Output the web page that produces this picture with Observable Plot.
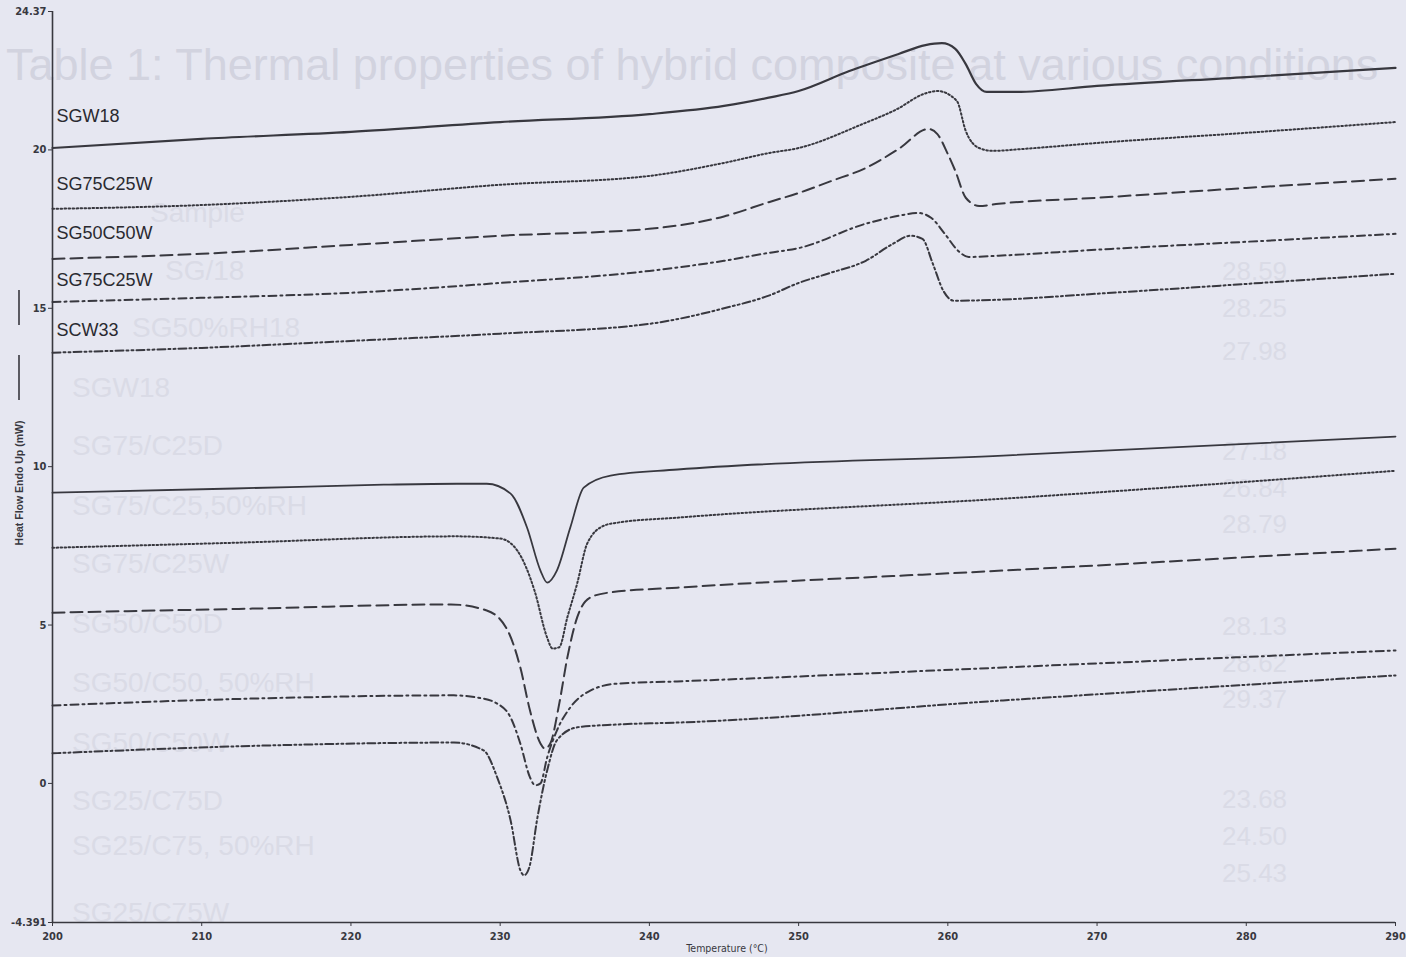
<!DOCTYPE html>
<html>
<head>
<meta charset="utf-8">
<script src="https://cdn.jsdelivr.net/npm/d3@7"></script>
<script src="https://cdn.jsdelivr.net/npm/@observablehq/plot@0.6"></script>
<style>
  html, body { margin: 0; padding: 0; background: #e6e7f1; }
  #chart { position: relative; width: 1406px; height: 957px; overflow: hidden; }
  svg { display: block; }
</style>
</head>
<body>
<div id="chart"></div>
<script>
// ---------- data ----------
const xTicks = [200, 210, 220, 230, 240, 250, 260, 270, 280, 290];
const yTicks = [-4.391, 0, 5, 10, 15, 20, 24.37];
const yTickLabels = ["-4.391", "0", "5", "10", "15", "20", "24.37"];

// heating scans (upper group)
const h1T = [200, 210, 220, 230, 240, 245, 248, 250, 253.4, 256.7, 258.5, 259.6, 260.5, 261.2, 261.9, 262.6, 264.6, 270, 280, 290];
const h1H = [20.06, 20.35, 20.57, 20.88, 21.13, 21.39, 21.65, 21.86, 22.49, 23.03, 23.31, 23.37, 23.19, 22.71, 22.08, 21.83, 21.83, 22.02, 22.30, 22.59];

const h2T = [200, 210, 220, 230, 240, 245, 248, 250, 254.3, 256.6, 258.4, 259.3, 260.6, 261.2, 262.1, 263, 265, 270, 280, 290];
const h2H = [18.14, 18.26, 18.52, 18.90, 19.18, 19.59, 19.9, 20.06, 20.82, 21.29, 21.77, 21.86, 21.55, 20.6, 20.06, 19.97, 20.03, 20.22, 20.54, 20.88];

const h3T = [200, 210, 220, 230, 240, 245, 248, 250, 252.2, 254.5, 256.7, 258.7, 259.3, 260, 260.5, 261.2, 262.1, 263.4, 270, 280, 290];
const h3H = [16.56, 16.72, 17.0, 17.29, 17.51, 17.9, 18.35, 18.64, 19.02, 19.43, 20.03, 20.66, 20.5, 19.87, 19.34, 18.49, 18.23, 18.30, 18.49, 18.8, 19.09];

const h4T = [200, 210, 220, 230, 240, 245, 248, 250, 254.5, 256.7, 258, 258.9, 259.8, 260.7, 261.4, 263.4, 270, 280, 290];
const h4H = [15.2, 15.33, 15.49, 15.8, 16.18, 16.5, 16.75, 16.9, 17.67, 17.92, 18.01, 17.85, 17.35, 16.81, 16.62, 16.66, 16.85, 17.1, 17.35];

const h5T = [200, 210, 220, 230, 240, 245, 248, 250, 252, 254.5, 256.3, 257.5, 258.3, 259, 259.7, 260.4, 263.4, 270, 280, 290];
const h5H = [13.6, 13.75, 13.97, 14.2, 14.51, 15.0, 15.4, 15.8, 16.1, 16.5, 17.03, 17.29, 17.19, 16.4, 15.55, 15.24, 15.27, 15.46, 15.77, 16.09];

// cooling scans (lower group)
const c1T = [200, 212.2, 222.2, 227.1, 229.1, 230.7, 231.8, 232.7, 233.15, 233.8, 234.7, 235.6, 237.4, 241.9, 263.7, 290];
const c1H = [9.18, 9.31, 9.43, 9.46, 9.46, 9.15, 8.08, 6.72, 6.34, 6.72, 8.08, 9.34, 9.72, 9.91, 10.35, 10.95];

const c2T = [200, 212.4, 227.1, 230.0, 231.15, 232.3, 233.15, 233.5, 233.96, 234.5, 235.16, 235.83, 236.97, 237.84, 241.86, 263.7, 290];
const c2H = [7.44, 7.6, 7.8, 7.73, 7.35, 6.09, 4.6, 4.26, 4.3, 5.24, 6.31, 7.57, 8.14, 8.23, 8.39, 8.99, 9.87];

const c3T = [200, 213.5, 226.7, 229.1, 230.5, 231.35, 232.0, 232.7, 233.0, 233.36, 233.96, 234.5, 235.16, 236.04, 237.37, 241.86, 263.7, 290];
const c3H = [5.39, 5.52, 5.65, 5.46, 4.83, 3.66, 2.3, 1.26, 1.1, 1.26, 2.52, 3.97, 5.24, 5.87, 6.03, 6.18, 6.72, 7.41];

const c4T = [200, 213.5, 226.9, 228.5, 229.8, 230.7, 231.35, 232.0, 232.35, 232.7, 233.15, 233.8, 234.7, 236.04, 237.84, 241.86, 263.7, 290];
const c4H = [2.46, 2.68, 2.78, 2.71, 2.52, 2.08, 1.26, 0.19, -0.06, 0.0, 0.82, 1.67, 2.4, 2.93, 3.15, 3.22, 3.66, 4.2];

const c5T = [200, 214.6, 226.9, 228.9, 229.8, 230.7, 231.35, 231.6, 231.95, 232.5, 233.15, 233.8, 235.16, 237.84, 241.86, 263.7, 290];
const c5H = [0.95, 1.2, 1.29, 1.04, 0.19, -1.17, -2.74, -2.9, -2.65, -1.07, 0.41, 1.36, 1.77, 1.86, 1.92, 2.62, 3.41];

const curveLabels = ["SGW18", "SG75C25W", "SG50C50W", "SG75C25W", "SCW33"];
const curveLabelT = [200, 200, 200, 200, 200];
const curveLabelH = [21.07, 18.93, 17.38, 15.9, 14.32];

// faint bleed-through of the page behind the chart
const ghostTitle = "Table 1: Thermal properties of hybrid composite at various conditions";
const ghostSamples = ["Sample", "SG/18", "SG50%RH18", "SGW18", "SG75/C25D", "SG75/C25,50%RH", "SG75/C25W", "SG50/C50D", "SG50/C50, 50%RH", "SG50/C50W", "SG25/C75D", "SG25/C75, 50%RH", "SG25/C75W"];
const ghostValues = ["28.59", "28.25", "27.98", "27.18", "26.84", "28.79", "28.13", "28.62", "29.37", "23.68", "24.50", "25.43"];

// ---------- build ----------
const styles = ["none", "1.6,2.4", "12,6", "8,4,2,4", "8,3,2,3,2,3"];
const series = [
  {T: h1T, H: h1H, dash: styles[0], w: 2.2},
  {T: h2T, H: h2H, dash: styles[1], w: 2},
  {T: h3T, H: h3H, dash: styles[2], w: 2},
  {T: h4T, H: h4H, dash: styles[3], w: 2},
  {T: h5T, H: h5H, dash: styles[4], w: 2},
  {T: c1T, H: c1H, dash: styles[0], w: 1.8},
  {T: c2T, H: c2H, dash: styles[1], w: 2},
  {T: c3T, H: c3H, dash: styles[2], w: 2},
  {T: c4T, H: c4H, dash: styles[3], w: 2},
  {T: c5T, H: c5H, dash: styles[4], w: 2}
];
const lineColor = "#38383f";
const tickFont = "'Liberation Sans Narrow', 'Arial Narrow', 'DejaVu Sans Condensed', sans-serif";

const labelRows = curveLabels.map((t, i) => ({t, x: curveLabelT[i], y: curveLabelH[i]}));

const plot = Plot.plot({
  width: 1406,
  height: 957,
  marginLeft: 52,
  marginRight: 11,
  marginTop: 11,
  marginBottom: 35,
  style: {background: "transparent", color: lineColor, fontFamily: tickFont},
  x: {domain: [200, 290]},
  y: {domain: [-4.391, 24.37]},
  marks: [
    Plot.axisX({ticks: xTicks, tickSize: 4, tickPadding: 6, label: null, fontSize: 11, fontWeight: "bold", tickFormat: d => String(d)}),
    Plot.axisY({ticks: yTicks, tickSize: 4, tickPadding: 2, label: null, fontSize: 11, fontWeight: "bold",
      tickFormat: d => yTickLabels[yTicks.indexOf(d)]}),
    Plot.ruleX([200], {stroke: lineColor, strokeWidth: 1.6}),
    Plot.ruleY([-4.391], {stroke: lineColor, strokeWidth: 1.6}),
    ...series.map(s => Plot.line(s.T.map((t, i) => ({t, h: s.H[i]})), {
      x: "t", y: "h", stroke: lineColor, strokeWidth: s.w, strokeDasharray: s.dash === "none" ? undefined : s.dash,
      curve: "monotone-x"
    })),
    Plot.text(labelRows, {x: "x", y: "y", text: "t", textAnchor: "start", dx: 4, fontSize: 18,
      fontFamily: "'Liberation Sans', Arial, sans-serif", fill: "#2a2a30"})
  ]
});

document.getElementById("chart").appendChild(plot);

// ---------- decorations: axis titles, faint bleed-through table ----------
const svg = d3.select(plot);
const ghost = svg.insert("g", ":first-child")
  .attr("text-anchor", "start")
  .attr("font-family", "'Liberation Sans', Arial, sans-serif");
ghost.append("text").attr("x", 6).attr("y", 80).attr("font-size", 45)
  .attr("fill", "#d2d3df")
  .text(ghostTitle);
const rowY = [212, 270, 327, 387, 445, 505, 563, 623, 682, 742, 800, 845, 912];
const rowX = [150, 165, 132, 72, 72, 72, 72, 72, 72, 72, 72, 72, 72];
ghostSamples.forEach((s, i) => {
  ghost.append("text").attr("x", rowX[i]).attr("y", rowY[i] + 10)
    .attr("font-size", 28).attr("fill", "#dadbe6").text(s);
});
const valY = [270, 307, 350, 450, 487, 523, 625, 662, 698, 798, 835, 872];
ghostValues.forEach((s, i) => {
  ghost.append("text").attr("x", 1222).attr("y", valY[i] + 10)
    .attr("font-size", 26).attr("fill", "#dadbe6").text(s);
});

// y-axis title with its line sample
svg.append("text")
  .attr("transform", "translate(23,483) rotate(-90)")
  .attr("text-anchor", "middle")
  .attr("font-size", 10.5)
  .attr("font-weight", "bold")
  .attr("font-family", "'Liberation Sans', Arial, sans-serif")
  .attr("fill", lineColor)
  .text("Heat Flow Endo Up (mW)");
svg.append("line").attr("x1", 19).attr("x2", 19).attr("y1", 355).attr("y2", 400).attr("stroke", lineColor).attr("stroke-width", 1.6);
svg.append("line").attr("x1", 19).attr("x2", 19).attr("y1", 290).attr("y2", 325).attr("stroke", lineColor).attr("stroke-width", 1.6);

// x-axis title
svg.append("text")
  .attr("x", 727).attr("y", 952)
  .attr("text-anchor", "middle")
  .attr("font-size", 10.5)
  .attr("font-family", tickFont)
  .attr("fill", lineColor)
  .text("Temperature (°C)");
</script>
</body>
</html>
